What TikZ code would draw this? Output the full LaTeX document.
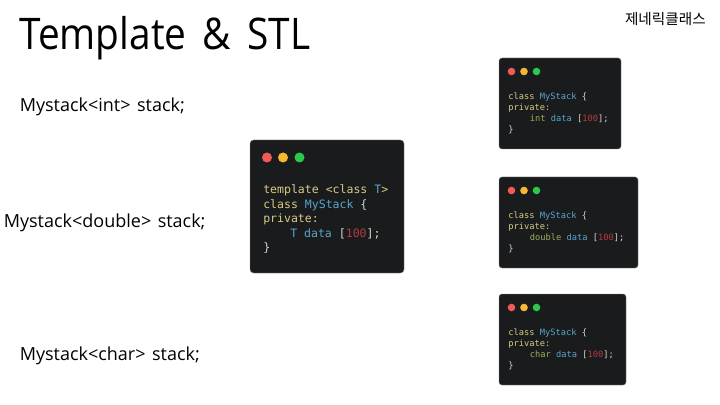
\documentclass[tikz,border=0pt]{standalone}
\usepackage{fontspec}
\setmainfont{Open Sans}
\setmonofont{DejaVu Sans Mono}
\newfontfamily\koreanfont{Noto Sans CJK KR}
\usetikzlibrary{positioning,calc}
\definecolor{windark}{HTML}{1A1B1D}
\definecolor{winedge}{HTML}{8A8D90}
\definecolor{dotred}{HTML}{F25A56}
\definecolor{dotamber}{HTML}{F5B82E}
\definecolor{dotgreen}{HTML}{2CC84A}
\definecolor{kwtan}{HTML}{D9CB85}
\definecolor{kwblue}{HTML}{5AA5CC}
\definecolor{kwgreen}{HTML}{9AB05A}
\definecolor{kwred}{HTML}{B53B40}
\definecolor{kwplain}{HTML}{D8D8D0}
\tikzset{
  x=0.025cm,y=-0.025cm,
  callline/.style={anchor=west,inner sep=0pt,font=\fontsize{12.8pt}{15pt}\selectfont},
  codeline/.style={anchor=west,inner sep=0pt,font=\ttfamily\fontsize{8.2pt}{10pt}\selectfont},
  smallline/.style={anchor=west,inner sep=0pt,font=\ttfamily\fontsize{6.2pt}{8pt}\selectfont},
}
\begin{document}
\begin{tikzpicture}
        \useasboundingbox[fill=white] (0,0) rectangle (720,405);
        \node[anchor=west,inner sep=0pt,xscale=0.89,font=\fontsize{31pt}{36pt}\selectfont] (title) at (19,38.5) {Template\hspace{13pt}\&\hspace{13pt}STL};
        \node[anchor=east,inner sep=0pt,font=\koreanfont\fontsize{10.4pt}{12pt}\selectfont] (generic) at (706,19) {제네릭클래스};
        \node[callline] (callint) at (19.5,106.5) {Mystack<int>\hspace{4.6pt}stack;};
        \node[callline] (calldouble) at (3.5,222.5) {Mystack<double>\hspace{4.6pt}stack;};
        \node[callline] (callchar) at (19.5,355.5) {Mystack<char>\hspace{4.6pt}stack;};
        % template window
        \fill[windark,draw=winedge,line width=0.3pt,rounded corners=2.5pt] (250,140) rectangle (404,273);
        \fill[dotred] (267,157.5) circle (5);
        \fill[dotamber] (283,157.5) circle (5);
        \fill[dotgreen] (299.5,157.5) circle (5);
        \node[codeline,text=kwtan] (tmplhead) at (263,190.5) {template <class \textcolor{kwblue}{T}>};
        \node[codeline,text=kwtan] (tmplclass) at (263,205) {class \textcolor{kwblue}{MyStack} \textcolor{kwplain}{\{}};
        \node[codeline,text=kwtan] (tmplpriv) at (263,219.5) {private:};
        \node[codeline,text=kwblue] (tmpldata) at (290,234) {T data \textcolor{kwplain}{[}\textcolor{kwred}{100}\textcolor{kwplain}{];}};
        \node[codeline,text=kwplain] (tmplend) at (263,248) {\}};
        % generated classes
        \foreach \wname/\wtop/\wright/\wtype in {int/58/621/int,double/177/638/double,char/294/626/char}{
          \fill[windark,draw=winedge,line width=0.3pt,rounded corners=2pt] (499,\wtop) rectangle (\wright,\wtop+91);
          \fill[dotred] (511.5,\wtop+13.5) circle (3.8);
          \fill[dotamber] (524,\wtop+13.5) circle (3.8);
          \fill[dotgreen] (536.5,\wtop+13.5) circle (3.8);
          \node[smallline,text=kwtan] (\wname class) at (508,\wtop+39) {class \textcolor{kwblue}{MyStack} \textcolor{kwplain}{\{}};
          \node[smallline,text=kwtan] (\wname priv) at (508,\wtop+50) {private:};
          \node[smallline,text=kwgreen] (\wname data) at (529.5,\wtop+61) {\wtype\ \textcolor{kwblue}{data} \textcolor{kwplain}{[}\textcolor{kwred}{100}\textcolor{kwplain}{];}};
          \node[smallline,text=kwplain] (\wname end) at (508,\wtop+72) {\}};
        }
\end{tikzpicture}
\end{document}
